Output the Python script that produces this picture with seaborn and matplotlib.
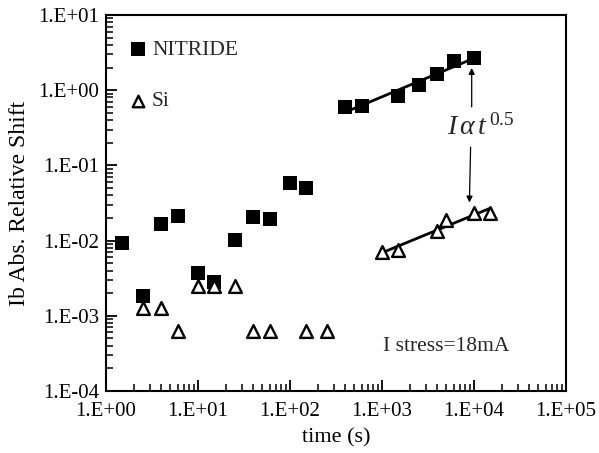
import numpy as np
import pandas as pd
import matplotlib
matplotlib.use("Agg")
import matplotlib.pyplot as plt
import seaborn as sns
from matplotlib.ticker import LogLocator, FixedLocator, NullFormatter

# ---- data ----
nit_t = [1.5, 2.5, 4.0, 6.0, 10, 15, 25, 40, 60, 100, 150,
         400, 600, 1500, 2500, 4000, 6000, 10000]
nit_y = [0.0093, 0.00185, 0.0166, 0.0212, 0.00367, 0.00284, 0.0102, 0.0204, 0.0192,
         0.0589, 0.0495, 0.59, 0.616, 0.845, 1.16, 1.66, 2.44, 2.65]
si_t = [2.5, 4.0, 6.0, 10, 15, 25, 40, 60, 150, 250,
        1000, 1500, 4000, 5000, 10000, 15000]
si_y = [0.00126, 0.00128, 0.000634, 0.00249, 0.00249, 0.00249, 0.000634, 0.000634,
        0.000634, 0.000634, 0.0071, 0.0075, 0.0134, 0.0188, 0.0235, 0.0235]
nit_fit_from = 300     # fit range start (s)
si_fit_from = 900
x_ticks = [1e0, 1e1, 1e2, 1e3, 1e4, 1e5]
y_ticks = [1e-4, 1e-3, 1e-2, 1e-1, 1e0, 1e1]
x_tick_labels = ["1.E+00", "1.E+01", "1.E+02", "1.E+03", "1.E+04", "1.E+05"]
y_tick_labels = ["1.E-04", "1.E-03", "1.E-02", "1.E-01", "1.E+00", "1.E+01"]

sns.set_theme(style="white")
plt.rcParams["font.family"] = ["Liberation Serif", "DejaVu Serif"]
plt.rcParams["mathtext.fontset"] = "custom"
plt.rcParams["mathtext.rm"] = "Liberation Serif"
plt.rcParams["mathtext.it"] = "Liberation Serif:italic"

nit = pd.DataFrame({"t": nit_t, "y": nit_y})
si = pd.DataFrame({"t": si_t, "y": si_y})

fig = plt.figure(figsize=(5.99, 4.53), dpi=100)
ax = fig.add_axes([106 / 599, 1 - 391 / 453, 460 / 599, 376 / 453])
ax.set_xscale("log")
ax.set_yscale("log")

def fit_line(df, t0):
    sub = df[df.t >= t0]
    k, b = np.polyfit(np.log10(sub.t), np.log10(sub.y), 1)
    xs = np.array([sub.t.min(), sub.t.max()])
    return pd.DataFrame({"t": xs, "y": 10 ** (b + k * np.log10(xs))})

sns.lineplot(data=fit_line(nit, nit_fit_from), x="t", y="y", ax=ax,
             color="black", linewidth=2.0, legend=False)
sns.lineplot(data=fit_line(si, si_fit_from), x="t", y="y", ax=ax,
             color="black", linewidth=2.0, legend=False)

sns.scatterplot(data=nit, x="t", y="y", ax=ax, marker="s", s=115,
                color="black", edgecolor="black", linewidth=0, label="NITRIDE", zorder=3)
sns.scatterplot(data=si, x="t", y="y", ax=ax, marker="^", s=85,
                facecolor="white", edgecolor="black", linewidth=1.7, label="Si", zorder=3)

ax.set_xlim(1e0, 1e5)
ax.set_ylim(1e-4, 1e1)

ax.xaxis.set_major_locator(FixedLocator(x_ticks))
ax.yaxis.set_major_locator(FixedLocator(y_ticks))
ax.set_xticklabels(x_tick_labels)
ax.set_yticklabels(y_tick_labels)
ax.xaxis.set_minor_locator(LogLocator(base=10, subs=np.arange(2, 10), numticks=20))
ax.yaxis.set_minor_locator(LogLocator(base=10, subs=np.arange(2, 10), numticks=20))
ax.xaxis.set_minor_formatter(NullFormatter())
ax.yaxis.set_minor_formatter(NullFormatter())
ax.tick_params(which="both", direction="in", top=False, right=False,
               bottom=True, left=True, color="black", labelsize=15, labelcolor="black")
ax.tick_params(which="major", length=8, width=1.3)
ax.tick_params(which="minor", length=5, width=1.1)
ax.tick_params(axis="x", which="major", pad=8)
ax.tick_params(axis="y", which="major", pad=5)

for sp in ax.spines.values():
    sp.set_color("black")
    sp.set_linewidth(1.5)

ax.set_xlabel("time (s)", fontsize=16, color="black", labelpad=5)
ax.set_ylabel("Ib Abs. Relative Shift", fontsize=17, color="black", labelpad=6)

leg = ax.legend(loc="upper left", bbox_to_anchor=(0.03, 0.962), frameon=False,
                fontsize=15.5, handlelength=0.7, handletextpad=0.3, labelspacing=1.45,
                markerscale=0.9, borderpad=0)

ax.text(11770, 0.2535, r"$I\,\alpha\,t^{\,0.5}$", fontsize=20, ha="center", va="baseline")
ax.annotate("", xy=(9440, 2.15), xytext=(9440, 0.55),
            arrowprops=dict(arrowstyle="-|>", color="black", lw=0.9, mutation_scale=9))
ax.annotate("", xy=(8900, 0.0295), xytext=(9200, 0.19),
            arrowprops=dict(arrowstyle="-|>", color="black", lw=0.9, mutation_scale=9))
ax.text(0.74, 0.118, "I stress=18mA", transform=ax.transAxes, fontsize=15.5,
        ha="center", va="center")

fig.savefig("out.png", dpi=100)
